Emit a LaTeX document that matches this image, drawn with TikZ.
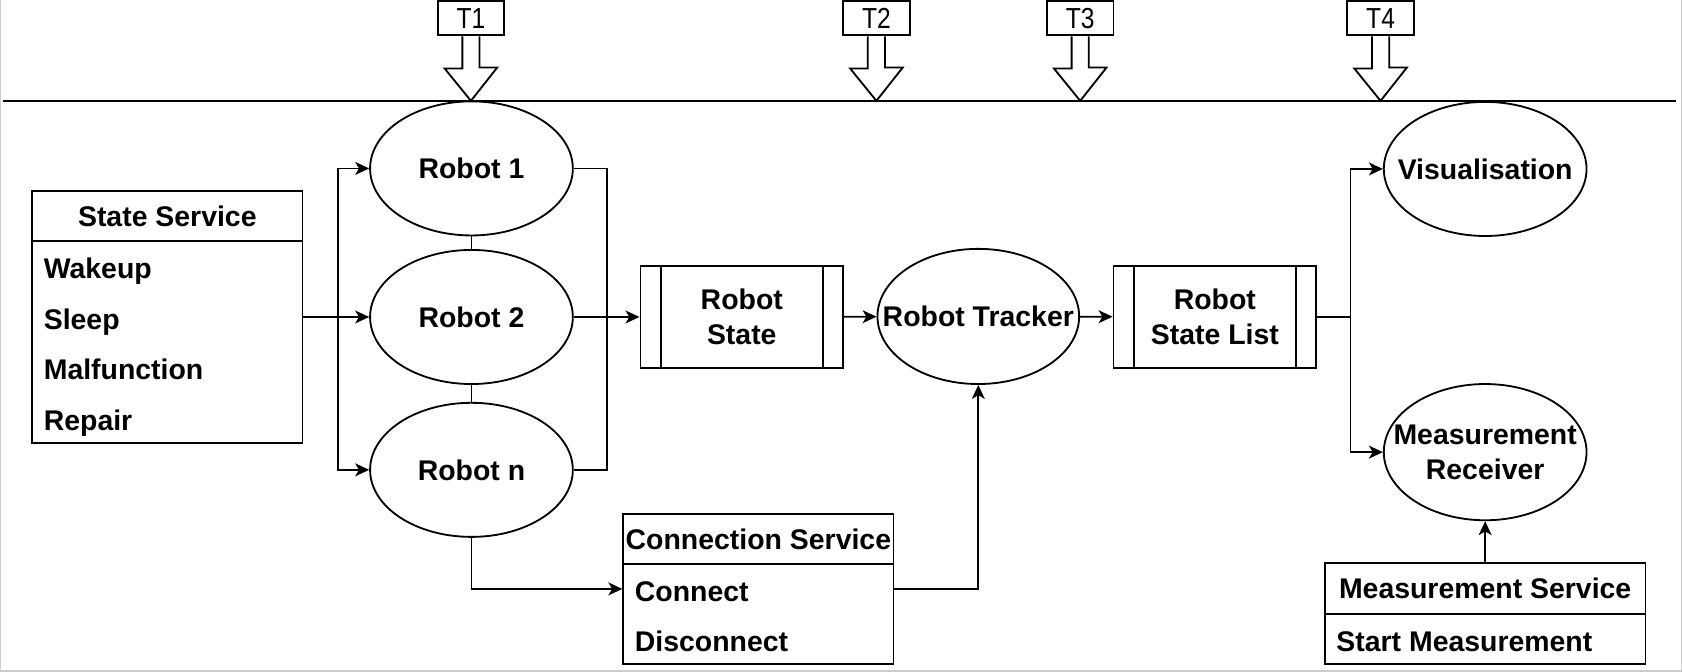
\documentclass[tikz,border=0pt]{standalone}
\usepackage{fontspec}
\setmainfont{Liberation Sans}
\newfontfamily\tfont[FakeStretch=0.85]{Liberation Sans}
\usetikzlibrary{arrows.meta,shapes.geometric}
\newcommand\zwbox[1]{\makebox[0pt]{#1}}

\begin{document}
\begin{tikzpicture}[x=1pt,y=-1pt,line width=1.7pt,>={Stealth[length=13pt,width=12pt,inset=3.5pt]},
  every node/.style={font=\fontsize{26.5}{33}\selectfont\bfseries,inner sep=0pt},
  oval/.style={draw,ellipse,minimum width=189pt,minimum height=125pt,align=center},
  proc/.style={draw,minimum width=189pt,minimum height=95pt,align=center,
    path picture={\draw ([xshift=19pt]path picture bounding box.north west)--([xshift=19pt]path picture bounding box.south west)
      ([xshift=-19pt]path picture bounding box.north east)--([xshift=-19pt]path picture bounding box.south east);}},
  lbox/.style={draw,fill=white},
  hd/.style={draw,minimum height=47pt,anchor=north},
  item/.style={anchor=west,text height=19pt,text depth=0pt},
  tbox/.style={draw,fill=white,minimum width=62pt,minimum height=32pt,font=\fontsize{27}{30}\tfont}]
\useasboundingbox (0,0) rectangle (1568,626);
\draw[gray!40,line width=1pt] (0.5,0)--(0.5,625.5)--(1567.5,625.5)--(1567.5,0);
\draw (3,94)--(1562,94);
\foreach \x/\n in {439/1,817/2,1007/3,1287/4}{
  \node[tbox] (t\n) at (\x,17) {T\n};
  \draw[fill=white] ([xshift=-8pt]t\n.south)--++(0,30)--++(-16.5,0)--(\x,94)--++(24.5,-31)--++(-16.5,0)--([xshift=8pt]t\n.south);}
\node[lbox,minimum width=252pt,minimum height=235pt] (ss) at (156,295.5) {};
\node[hd,minimum width=252pt] (ssh) at (ss.north) {State Service};
\foreach \w [count=\i] in {Wakeup,Sleep,Malfunction,Repair}
  \node[item] (ss\i) at (40,{203+47.2*\i}) {\w};
\node[oval] (r1) at (439.5,157) {Robot 1};
\node[oval] (r2) at (439.5,295.5) {Robot 2};
\node[oval] (rn) at (439.5,438) {Robot n};
\node[proc] (rs) at (691.5,295.5) {Robot\\State};
\node[oval,minimum width=188pt,minimum height=126pt] (rt) at (912,295) {\zwbox{Robot Tracker}};
\node[proc] (rsl) at (1132.5,295.5) {Robot\\State List};
\node[oval] (vis) at (1384.5,157.5) {\zwbox{Visualisation}};
\node[oval,minimum height=127pt] (mr) at (1384.5,421.5) {\zwbox{Measurement}\\\zwbox{Receiver}};
\node[lbox,minimum width=252pt,minimum height=140pt] (cs) at (707,549) {};
\node[hd,minimum width=252pt] (csh) at (cs.north) {Connection Service};
\node[item] (cs1) at (591,551) {Connect};\node[item] (cs2) at (591,598) {Disconnect};
\node[lbox,minimum width=299pt,minimum height=94pt] (ms) at (1384.5,572) {};
\node[hd,minimum width=299pt] (msh) at (ms.north) {Measurement Service};
\node[item] (ms1) at (1245,598) {Start Measurement};
\coordinate (sj) at (315,295.5);\coordinate (rj) at (566,295.5);\coordinate (vj) at (1259,295.5);
\draw[->] (ss.east)--(r2.west);
\draw[->] (sj)|-(r1.west);\draw[->] (sj)|-(rn.west);
\draw (r1)--(r2) (r2)--(rn);
\draw (r1.east)-|(rj) (rn.east)-|(rj);
\draw[->] (r2.east)--(rs.west);
\draw[->] (rs)--(rt);\draw[->] (rt)--(rsl);
\draw (rsl.east)--(vj);
\draw[->] (vj)|-(vis.west);\draw[->] (vj)|-(mr.west);
\draw[->] (rn.south)|-(cs.west);
\draw[->] (cs.east)-|(rt.south);
\draw[->] (ms.north)--(mr.south);
\end{tikzpicture}
\end{document}
